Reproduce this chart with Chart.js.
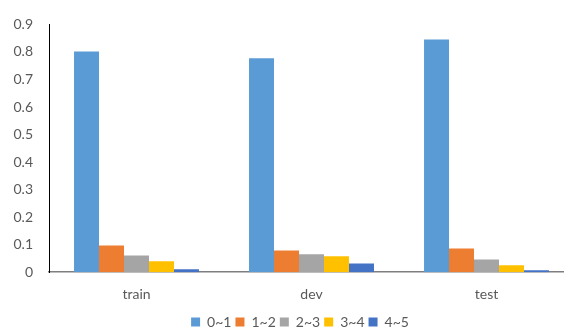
<!DOCTYPE html>
<html>
<head>
<meta charset="utf-8">
<script src="https://cdn.jsdelivr.net/npm/chart.js@4/dist/chart.umd.min.js"></script>
<style>
html,body{margin:0;padding:0;background:#fff;overflow:hidden;}
#wrap{position:absolute;left:0;top:0;width:576px;height:327px;}
</style>
</head>
<body>
<div id="wrap"><canvas id="c" width="576" height="327"></canvas></div>
<script>
const categories = ["train", "dev", "test"];
const seriesNames = ["0~1", "1~2", "2~3", "3~4", "4~5"];
const s01 = [0.802, 0.777, 0.845];
const s12 = [0.097, 0.079, 0.086];
const s23 = [0.061, 0.065, 0.046];
const s34 = [0.040, 0.058, 0.025];
const s45 = [0.011, 0.032, 0.007];
const yTicks = [0, 0.1, 0.2, 0.3, 0.4, 0.5, 0.6, 0.7, 0.8, 0.9];

const colors = ["#5B9BD5", "#ED7D31", "#A5A5A5", "#FFC000", "#4472C4"];
const values = [s01, s12, s23, s34, s45];

const FONT = "Lato, 'Open Sans', sans-serif";
const GRAY = "#595959";

const legendShift = {
  id: 'legendShift',
  afterLayout(chart) {
    const lg = chart.legend;
    if (lg) { lg.left += 13; lg.right += 13; lg.top -= 6; lg.bottom -= 6; }
  }
};

new Chart(document.getElementById('c'), {
  type: 'bar',
  data: {
    labels: categories,
    datasets: seriesNames.map((n, i) => ({
      label: n,
      data: values[i],
      backgroundColor: colors[i],
      borderWidth: 0,
      categoryPercentage: 0.714,
      barPercentage: 1.0
    }))
  },
  plugins: [legendShift],
  options: {
    responsive: false,
    animation: false,
    layout: { padding: { left: 0, right: 2, top: 16, bottom: -18 } },
    plugins: {
      tooltip: { enabled: false },
      legend: {
        position: 'bottom',
        labels: {
          boxWidth: 9, boxHeight: 9, padding: 4,
          color: GRAY,
          font: { family: FONT, size: 14 }
        }
      }
    },
    scales: {
      x: {
        grid: { display: false, drawTicks: false },
        border: { display: true, color: '#7F7F7F', width: 1.5 },
        ticks: { color: GRAY, padding: 14, font: { family: FONT, size: 14 } }
      },
      y: {
        min: 0, max: 0.9,
        afterBuildTicks: s => { s.ticks = yTicks.map(v => ({ value: v })); },
        afterFit: s => { s.width = 49; },
        grid: { display: false, drawTicks: false },
        border: { display: true, color: '#000000', width: 1 },
        ticks: {
          color: GRAY, padding: 16,
          font: { family: FONT, size: 14 },
          callback: v => String(+(+v).toFixed(1))
        }
      }
    }
  }
});
</script>
</body>
</html>
